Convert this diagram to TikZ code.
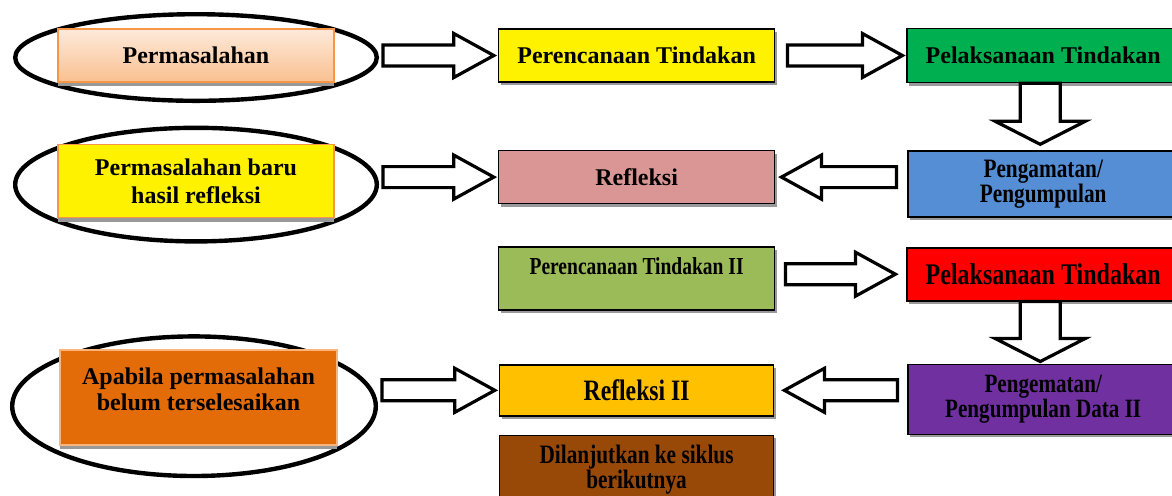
\documentclass[tikz,border=0pt]{standalone}
\usepackage{fontspec}
\setmainfont{Liberation Serif}
\newfontfamily\narrowfont[FakeStretch=0.8]{Liberation Serif}
\usepackage{tikz}
\usetikzlibrary{positioning, calc, shapes.geometric, shadows, backgrounds}

\definecolor{edgeorange}{HTML}{F79646}
\definecolor{peachtop}{HTML}{FDEADA}
\definecolor{peachbot}{HTML}{FAC090}
\definecolor{pinkrose}{HTML}{D99694}
\definecolor{leafgreen}{HTML}{00B050}
\definecolor{skyblue}{HTML}{558ED5}
\definecolor{olivegreen}{HTML}{9BBB59}
\definecolor{royalpurple}{HTML}{7030A0}
\definecolor{amber}{HTML}{FFC000}
\definecolor{rust}{HTML}{984807}
\definecolor{pumpkin}{HTML}{E36C09}

\begin{document}
\begin{tikzpicture}[x=0.5pt, y=-0.5pt,
    box/.style={draw, line width=0.8pt, minimum width=138pt, minimum height=26.5pt, align=center, inner sep=1pt,
        font=\bfseries\fontsize{12}{14}\selectfont},
    block/.style={box, drop shadow={fill=black!40, opacity=1, shadow xshift=1pt, shadow yshift=-1.5pt}},
    lblock/.style={box, draw=edgeorange, drop shadow={fill=black!40, opacity=1, shadow xshift=0pt, shadow yshift=-2pt}},
    slim/.style={font=\narrowfont\bfseries\fontsize{#1}{12.5}\selectfont},
    ring/.style={ellipse, draw, line width=2.2pt, inner sep=0pt},
    fat/.style n args={3}{draw, fill=white, line width=1.6pt, line join=miter, to path={
        let \p1=(\tikztostart), \p2=(\tikztotarget),
            \n1={veclen(\x2-\x1,\y2-\y1)}, \n2={atan2(\y2-\y1,\x2-\x1)} in
        ($(\p1)+(\n2+90:#1)$) -- ($(\p1)+(\n2:\n1-#3)+(\n2+90:#1)$)
        -- ($(\p1)+(\n2:\n1-#3)+(\n2+90:#2)$) -- (\p2)
        -- ($(\p1)+(\n2:\n1-#3)+(\n2-90:#2)$) -- ($(\p1)+(\n2:\n1-#3)+(\n2-90:#1)$)
        -- ($(\p1)+(\n2-90:#1)$) -- cycle}},
    hfat/.style={fat={5.25pt}{11pt}{20pt}},
    vfat/.style={fat={10pt}{22.5pt}{11.5pt}}
]
\useasboundingbox (0,0) rectangle (1172,495);
\clip (0,0) rectangle (1172,495);

% first cycle
\node[lblock, top color=peachtop, bottom color=peachbot] (b1) at (196,55.5) {Permasalahan};
\node[block, fill=yellow, right=81.5pt of b1] (b2) {Perencanaan Tindakan};
\node[block, fill=leafgreen, minimum width=136pt, minimum height=27pt, right=65.5pt of b2] (b3) {Pelaksanaan Tindakan};
\node[block, fill=skyblue, minimum width=135pt, minimum height=33pt, slim=13.3, below=33.5pt of b3] (b4) {Pengamatan/\\Pengumpulan};
\node[block, fill=pinkrose, below=33.5pt of b2] (b5) {Refleksi};
\node[lblock, fill=yellow, minimum height=36.5pt, below=30.5pt of b1] (b6) {Permasalahan baru\\hasil refleksi};

% second cycle
\node[block, fill=olivegreen, minimum height=31.5pt, text depth=12.5pt, slim=12.2, below=21pt of b5] (b7) {Perencanaan Tindakan II};
\node[block, fill=red, minimum width=136pt, slim=15, below=14.5pt of b4] (b8) {Pelaksanaan Tindakan};
\node[block, fill=royalpurple, minimum width=135pt, minimum height=35pt, slim=13.2, below=31pt of b8] (b9) {Pengematan/\\Pengumpulan Data II};
\node[block, fill=amber, minimum width=137pt, minimum height=25.5pt, slim=14.8, below=26.5pt of b7] (b10) {Refleksi II};
\node[block, fill=rust, minimum width=137pt, minimum height=34pt, slim=13.3, below=9pt of b10] (b11) {Dilanjutkan ke siklus\\berikutnya};
\node[lblock, fill=pumpkin, draw=edgeorange!70, minimum width=138.5pt, minimum height=47.5pt, text depth=8.5pt,
      font=\bfseries\fontsize{12}{13}\selectfont, below=65.5pt of b6, xshift=1.25pt] (b12) {Apabila permasalahan\\belum terselesaikan};

\begin{scope}[on background layer]
  \node[ring, minimum width=180.8pt, minimum height=43.3pt, yshift=-1pt] (e1) at (b1) {};
  \node[ring, minimum width=180.8pt, minimum height=56.8pt, yshift=-1.75pt] (e2) at (b6) {};
  \node[ring, minimum width=181.8pt, minimum height=69.8pt, xshift=-2.25pt, yshift=-4.25pt] (e3) at (b12) {};
\end{scope}

\draw[hfat] ([xshift=2pt]e1.east |- b2.west) to ([xshift=-2pt]b2.west);
\draw[hfat] ([xshift=6pt]b2.east) to ([xshift=-2pt]b3.west |- b2.east);
\draw[vfat] ([xshift=-1.5pt]b3.south) to ([xshift=-1.5pt,yshift=3pt]b3.south |- b4.north);
\draw[hfat] ([xshift=-5.5pt]b4.west |- b5.east) to ([xshift=3pt]b5.east);
\draw[hfat] ([xshift=2pt]e2.east |- b5.west) to ([xshift=-2pt]b5.west);
\draw[hfat] ([xshift=5pt]b7.east |- b8.west) to ([xshift=-5.5pt]b8.west);
\draw[vfat] ([xshift=-1.5pt]b8.south) to ([xshift=-1.5pt,yshift=1pt]b8.south |- b9.north);
\draw[hfat] ([xshift=-5pt]b9.west |- b10.east) to ([xshift=5pt]b10.east);
\draw[hfat] ([xshift=2pt]e3.east |- b10.west) to ([xshift=-2pt]b10.west);

\end{tikzpicture}
\end{document}
